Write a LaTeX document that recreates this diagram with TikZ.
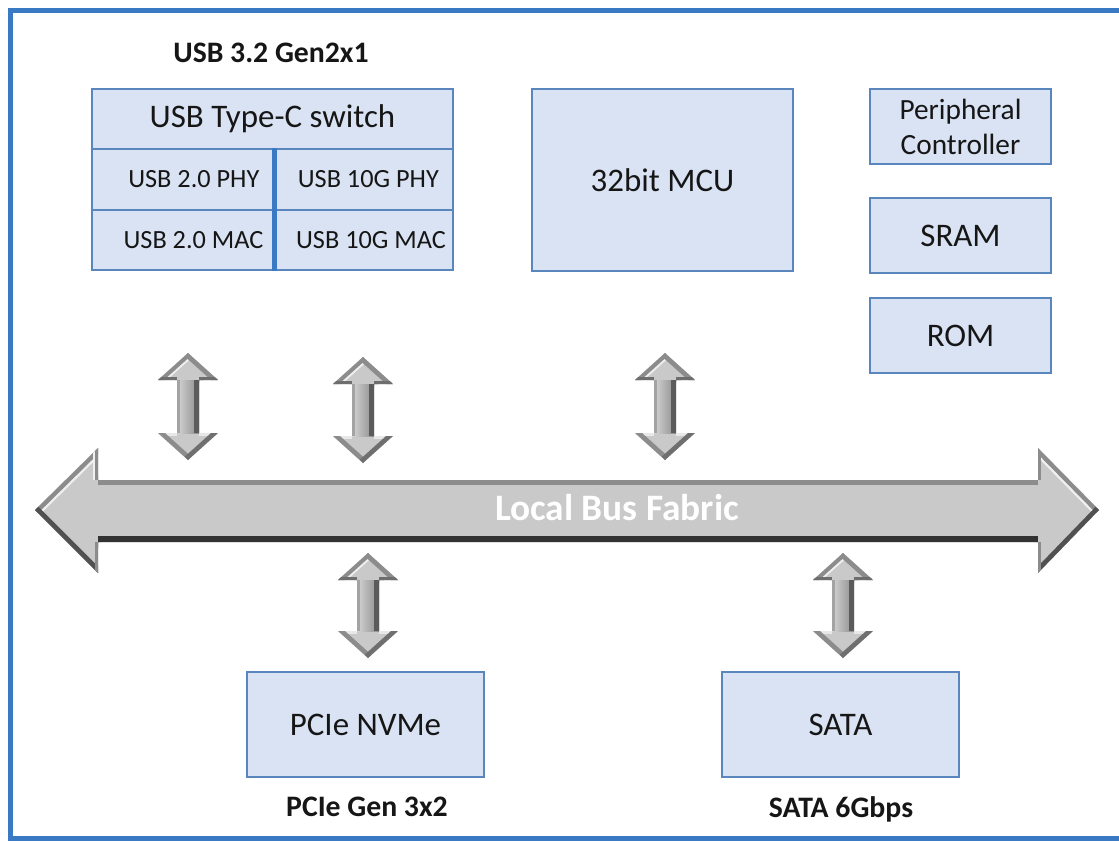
\documentclass[tikz,border=0pt]{standalone}
\usepackage{fontspec}
\setmainfont{Carlito}
\definecolor{boxfill}{RGB}{218,227,243}
\definecolor{boxline}{RGB}{90,134,190}
\definecolor{frameblue}{RGB}{58,122,196}
\definecolor{txt}{RGB}{22,22,22}
\definecolor{arrfill}{RGB}{201,201,201}
\definecolor{arrmid}{RGB}{140,140,140}
\definecolor{arrbase}{RGB}{110,110,110}
\definecolor{arrdark}{RGB}{50,50,50}
\definecolor{arrlight}{RGB}{240,240,240}
\tikzset{
  blk/.style={draw=boxline, fill=boxfill, line width=1.5pt, inner sep=0pt, text=txt,
    font=\fontsize{24.7}{29}\selectfont},
  sz/.style 2 args={minimum width=#1*0.75pt, minimum height=#2*0.75pt},
  cell/.style={blk, font=\fontsize{19.7}{24}\selectfont},
  ttl/.style={font=\bfseries\fontsize{22.3}{27}\selectfont, text=txt, inner sep=0pt, anchor=base},
  bustxt/.style={font=\bfseries\fontsize{28}{33}\selectfont, text=white, inner sep=0pt, anchor=base},
}
\newcommand{\vdarr}[3]{%
  \pgfmathsetmacro\vya{#2+27}%
  \pgfmathsetmacro\vyb{#3-27}%
  \begin{scope}[shift={(#1,0)}]
    \begin{scope}
      \clip (0,#2) -- (30,\vya) -- (11,\vya) -- (11,\vyb) -- (30,\vyb) -- (0,#3)
        -- (-30,\vyb) -- (-11,\vyb) -- (-11,\vya) -- (-30,\vya) -- cycle;
      \fill[arrfill] (-32,#2) rectangle (32,#3);
      \shade[left color=arrfill!80!white, right color=arrmid] (-11,\vya) rectangle (11,\vyb);
      \draw[arrlight, line width=9pt] (0,#2) -- (-30,\vya);
      \draw[arrmid, line width=6pt] (0,#2) -- (-30,\vya);
      \draw[arrmid, line width=7pt] (0,#2) -- (30,\vya);
      \draw[arrbase, line width=5pt] (-30,\vya) -- (-11,\vya) (30,\vya) -- (11,\vya);
      \draw[arrmid!80!white, line width=4pt] (-11,\vya) -- (-11,\vyb);
      \draw[arrdark!80!white, line width=7pt] (11,\vya) -- (11,\vyb);
      \draw[arrlight!80!arrfill, line width=5pt] (-30,\vyb) -- (-11,\vyb) (30,\vyb) -- (11,\vyb);
      \draw[arrmid, line width=7pt] (-30,\vyb) -- (0,#3);
      \draw[arrdark!70!white, line width=7pt] (30,\vyb) -- (0,#3);
    \end{scope}
  \end{scope}}
\begin{document}
\begin{tikzpicture}[x=0.75pt,y=-0.75pt]
\useasboundingbox (0,0) rectangle (1119,840);
\fill[white] (0,0) rectangle (1119,840);
\draw[frameblue, line width=3.75pt] (10,10.5) rectangle (1140,838.5);

% USB block
\node[ttl] (tusb) at (271,62) {USB 3.2 Gen2x1};
\node[blk, sz={361}{60}] (usbsw) at (272.5,119) {USB Type-C switch};
\node[cell, sz={181}{61}] (phy20) at (182.5,179.5) {\hspace*{17pt}USB 2.0 PHY};
\node[cell, sz={181}{60}] (mac20) at (182.5,240) {\hspace*{16.5pt}USB 2.0 MAC};
\node[cell, sz={180}{61}] (phy10) at (363,179.5) {\hspace*{8pt}USB 10G PHY};
\node[cell, sz={180}{60}] (mac10) at (363,240) {\hspace*{12pt}USB 10G MAC};
\draw[frameblue, line width=3.75pt] (phy20.north east) -- (mac20.south east);

% MCU and memories
\node[blk, sz={261}{182}] (mcu) at (662.5,180) {32bit MCU};
\node[blk, sz={181}{75}, align=center, font=\fontsize{22}{26.25}\selectfont] (periph) at (960.5,126.5) {Peripheral\\Controller};
\node[blk, sz={181}{75}] (sram) at (960.5,235.5) {SRAM};
\node[blk, sz={181}{75}] (rom) at (960.5,335.5) {ROM};

% Local bus fabric arrow
\begin{scope}
  \clip (35,510) -- (98,448) -- (98,480) -- (1038,480) -- (1038,448) -- (1099,510)
    -- (1038,573) -- (1038,542) -- (98,542) -- (98,573) -- cycle;
  \fill[arrfill] (30,440) rectangle (1105,580);
  \draw[arrlight, line width=10pt] (35,510) -- (98,448) (1038,448) -- (1099,510);
  \draw[arrmid, line width=6.5pt] (35,510) -- (98,448) (1038,448) -- (1099,510);
  \draw[arrlight, line width=8pt] (98,448) -- (98,480);
  \draw[arrmid, line width=4pt] (98,448) -- (98,480) (1038,448) -- (1038,480);
  \draw[arrmid, line width=7pt] (98,480) -- (1038,480);
  \draw[arrdark, line width=9pt] (98,542) -- (1038,542);
  \draw[arrdark!85!white, line width=7pt] (35,510) -- (98,573) (1099,510) -- (1038,573);
  \draw[arrmid, line width=5pt] (98,542) -- (98,573) (1038,542) -- (1038,573);
\end{scope}
\node[bustxt] (bus) at (617,520) {Local Bus Fabric};

% bus links
\vdarr{188}{353}{460}
\vdarr{363}{357}{463}
\vdarr{665}{353}{460}
\vdarr{368}{553}{658}
\vdarr{843}{553}{658}

% storage
\node[blk, sz={237}{105}] (nvme) at (365.5,724.5) {PCIe NVMe};
\node[blk, sz={237}{105}] (sata) at (840.5,724.5) {SATA};
\node[ttl] (tpcie) at (367,816) {PCIe Gen 3x2};
\node[ttl] (tsata) at (841,817) {SATA 6Gbps};
\end{tikzpicture}
\end{document}
